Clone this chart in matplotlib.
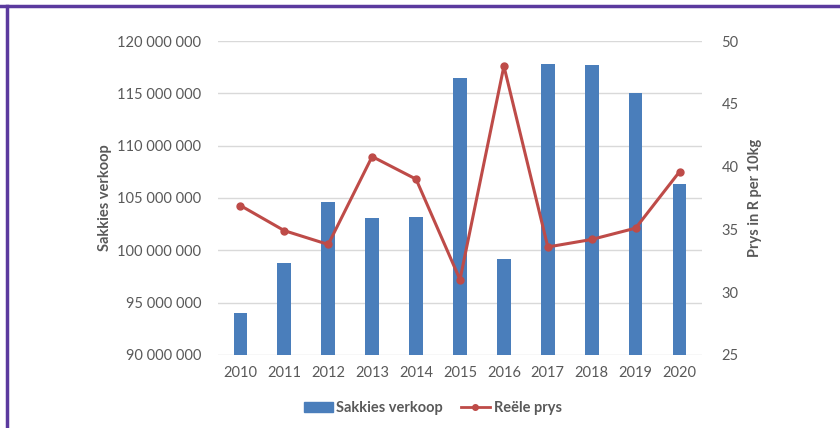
import matplotlib.pyplot as plt
from matplotlib.lines import Line2D
from matplotlib.ticker import FuncFormatter

plt.rcParams['font.family'] = ['Lato', 'DejaVu Sans']

years = ["2010", "2011", "2012", "2013", "2014", "2015",
         "2016", "2017", "2018", "2019", "2020"]
sakkies = [94.0e6, 98.8e6, 104.6e6, 103.1e6, 103.2e6, 116.5e6,
           99.2e6, 117.8e6, 117.7e6, 115.0e6, 106.3e6]
prys = [36.9, 34.9, 33.8, 40.8, 39.0, 31.0, 48.0, 33.6, 34.2, 35.1, 39.6]

grey = "#595959"
blue = "#4a7ebb"
red = "#be4b48"

fig = plt.figure(figsize=(8.4, 4.28), dpi=100)
ax = fig.add_axes([0.2595, 0.1706, 0.5762, 0.7336])
ax2 = ax.twinx()

x = range(len(years))
ax.bar(x, sakkies, width=0.31, color=blue, zorder=2)
ax.set_ylim(90e6, 120e6)
ax.set_yticks(range(90000000, 120000001, 5000000))
ax.yaxis.set_major_formatter(FuncFormatter(lambda v, p: f"{int(v):,}".replace(",", " ")))
ax.set_xlim(-0.51, len(years) - 0.49)
ax.set_xticks(list(x))
ax.set_xticklabels(years)
ax.grid(axis="y", color="#d9d9d9", linewidth=1, zorder=0)
ax.set_axisbelow(True)

ax2.plot(x, prys, color=red, linewidth=2.2, marker="o", markersize=5, zorder=3)
ax2.set_ylim(25, 50)
ax2.set_yticks(range(25, 51, 5))

for a in (ax, ax2):
    for s in a.spines.values():
        s.set_visible(False)
    a.tick_params(length=0, labelsize=10.5, labelcolor=grey)
ax.tick_params(axis="y", pad=12)
ax.tick_params(axis="x", pad=8)
ax2.tick_params(axis="y", pad=14)

ax.set_ylabel("Sakkies verkoop", fontsize=10.5, fontweight="bold", color=grey, labelpad=4)
ax2.set_ylabel("Prys in R per 10kg", fontsize=10.5, fontweight="bold", color=grey, labelpad=7)

handles = [plt.Rectangle((0, 0), 1, 1, color=blue),
           Line2D([0], [0], color=red, linewidth=2, marker="o", markersize=4)]
fig.legend(handles, ["Sakkies verkoop", "Reële prys"], loc="center",
           bbox_to_anchor=(0.515, 0.047), ncol=2, frameon=False,
           prop={"size": 10.5, "weight": "bold"}, labelcolor=grey,
           handlelength=2.0, columnspacing=1.2, handletextpad=0.25)

# purple frame on top and left
fig.add_artist(Line2D([0, 1], [1 - 5.5 / 428] * 2, color="#5b3a9e", linewidth=2.5,
                      transform=fig.transFigure))
fig.add_artist(Line2D([7 / 840] * 2, [0, 1 - 5.5 / 428], color="#5b3a9e", linewidth=2.5,
                      transform=fig.transFigure))

fig.savefig("out.png", dpi=100)
